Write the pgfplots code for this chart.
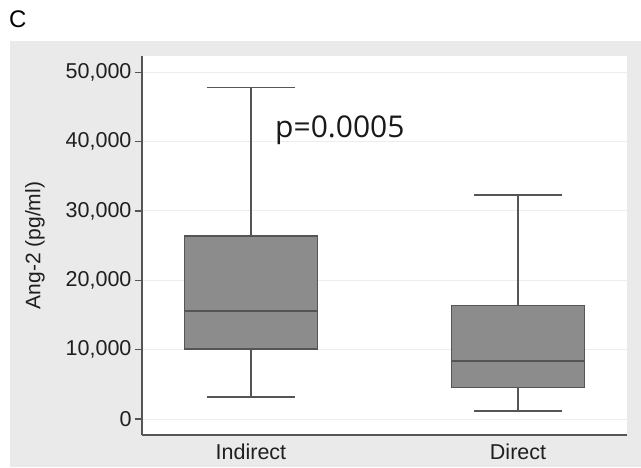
\documentclass[border=0pt]{standalone}
\usepackage{fontspec}
\setmainfont{Liberation Sans}
\newfontfamily\opensans{Open Sans}
\usepackage{pgfplots}
\pgfplotsset{compat=1.18}
\definecolor{bggrey}{HTML}{EAEAEA}
\definecolor{boxfill}{HTML}{8C8C8C}
\definecolor{linegrey}{HTML}{555555}
\definecolor{gridgrey}{HTML}{EDEDED}
\begin{document}
\begin{tikzpicture}
\fill[white] (0pt,0pt) rectangle (641pt,468pt);
\useasboundingbox (0pt,0pt) rectangle (641pt,468pt);
\fill[bggrey] (10pt,1pt) rectangle (641pt,427pt);
\node[anchor=base west, inner sep=0, font=\fontsize{24}{28}\selectfont] at (9pt,440pt) {C};
% values in thousands of pg/ml
\begin{axis}[
  at={(142pt,33pt)}, anchor=south west, scale only axis,
  width=485pt, height=379pt,
  xmin=0.592, xmax=2.408, ymin=-2.3, ymax=52.34,
  axis lines=left, axis line style={-, draw=linegrey, line width=1.2pt},
  axis background/.style={fill=white},
  ytick={0,10,20,30,40,50},
  yticklabels={0,{10,000},{20,000},{30,000},{40,000},{50,000}},
  xtick={1,2}, xticklabels={Indirect,Direct},
  tick label style={font=\fontsize{21.5}{25}\selectfont, text=black!88},
  xticklabel style={yshift=2pt},
  ymajorgrids, grid style={gridgrey, line width=1pt},
  tick align=outside, major tick length=7pt,
  ytick style={draw=linegrey, line width=1.2pt},
  xtick style={draw=none},
  ylabel={Ang-2 (pg/ml)},
  ylabel style={font=\fontsize{21}{25}\selectfont, text=black!88, at={(axis description cs:-0.2206,0.5)}, anchor=center},
  clip=false,
  seg/.style={draw=linegrey, line width=1.2pt, mark=none, solid},
]
% Indirect: lower whisker 3.17, Q1 10.09, median 15.57, Q3 26.39, upper whisker 47.77
\addplot[seg] coordinates {(1,26.39) (1,47.77)};
\addplot[seg] coordinates {(0.835,47.77) (1.165,47.77)};
\addplot[seg] coordinates {(1,10.09) (1,3.17)};
\addplot[seg] coordinates {(0.835,3.17) (1.165,3.17)};
\addplot[seg, fill=boxfill] coordinates {(0.75,10.09) (1.25,10.09) (1.25,26.39) (0.75,26.39) (0.75,10.09)};
\addplot[seg] coordinates {(0.75,15.57) (1.25,15.57)};
% Direct: lower whisker 1.15, Q1 4.51, median 8.36, Q3 16.34, upper whisker 32.30
\addplot[seg] coordinates {(2,16.34) (2,32.30)};
\addplot[seg] coordinates {(1.835,32.30) (2.165,32.30)};
\addplot[seg] coordinates {(2,4.51) (2,1.15)};
\addplot[seg] coordinates {(1.835,1.15) (2.165,1.15)};
\addplot[seg, fill=boxfill] coordinates {(1.75,4.51) (2.25,4.51) (2.25,16.34) (1.75,16.34) (1.75,4.51)};
\addplot[seg] coordinates {(1.75,8.36) (2.25,8.36)};
\node[anchor=base west, inner sep=0, font=\opensans\fontsize{30}{35}\selectfont, text=black!90] at (axis cs:1.09,40.66) {p=0.0005};
\end{axis}
\end{tikzpicture}
\end{document}
